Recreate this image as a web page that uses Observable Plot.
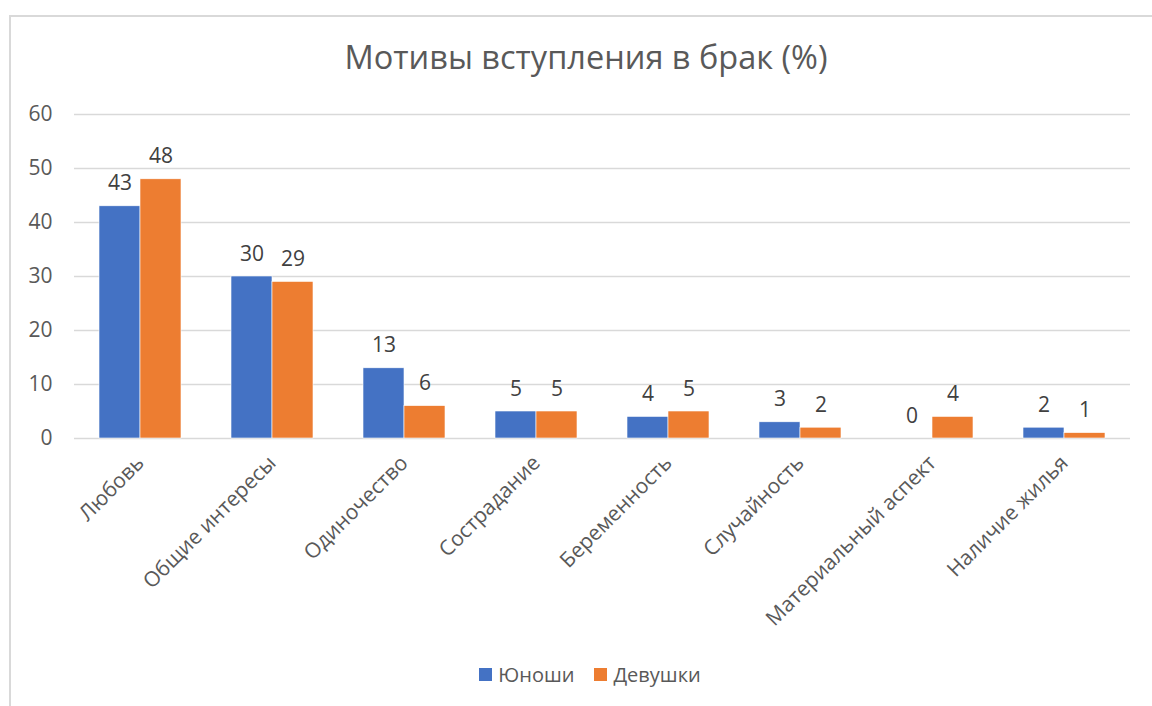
<!DOCTYPE html>
<html>
<head>
<meta charset="utf-8">
<script src="https://cdn.jsdelivr.net/npm/d3@7"></script>
<script src="https://cdn.jsdelivr.net/npm/@observablehq/plot@0.6"></script>
<style>
  body { margin: 0; background: #fff; }
  #wrap { position: relative; width: 1152px; height: 706px; overflow: hidden; font-family: "Open Sans", sans-serif; }
  #frame { position: absolute; left: 9px; top: 15px; width: 1160px; height: 720px; border-left: 2px solid #d9d9d9; border-top: 2px solid #d9d9d9; box-sizing: border-box; }
  #title { position: absolute; left: 0; width: 1172px; top: 34px; text-align: center; font-size: 32.5px; color: #595959; }
  #chart { position: absolute; left: 0; top: 0; }
  #legend { position: absolute; left: 0; width: 1180px; top: 660px; text-align: center; font-size: 20px; color: #595959; }
  .item { display: inline-flex; align-items: center; margin: 0 10px; }
  .sw { display: inline-block; width: 13px; height: 13px; margin-right: 6px; }
</style>
</head>
<body>
<div id="wrap">
  <div id="frame"></div>
  <div id="chart"></div>
  <div id="title"></div>
  <div id="legend"></div>
</div>
<script>
const title = "Мотивы вступления в брак (%)";
const categories = ["Любовь", "Общие интересы", "Одиночество", "Сострадание", "Беременность", "Случайность", "Материальный аспект", "Наличие жилья"];
const series = ["Юноши", "Девушки"];
const youths = [43, 30, 13, 5, 4, 3, 0, 2];
const girls = [48, 29, 6, 5, 5, 2, 4, 1];
const colors = ["#4472c4", "#ed7d31"];
const yTicks = [0, 10, 20, 30, 40, 50, 60];

const data = [];
categories.forEach((c, i) => {
  data.push({category: c, series: series[0], value: youths[i]});
  data.push({category: c, series: series[1], value: girls[i]});
});

const chart = Plot.plot({
  width: 1152,
  height: 706,
  marginTop: 114,
  marginBottom: 268,
  marginLeft: 72,
  marginRight: 20,
  style: {fontFamily: "'Open Sans', sans-serif", fontSize: "21px", color: "#595959", background: "transparent"},
  fx: {domain: categories, padding: 0, label: null, tickRotate: -45, tickSize: 0, tickPadding: 21},
  x: {domain: series, paddingInner: 0, paddingOuter: 0.576, axis: null},
  y: {domain: [0, 60], ticks: yTicks, tickSize: 0, tickPadding: 22, label: null},
  color: {domain: series, range: colors},
  marks: [
    Plot.gridY(yTicks, {stroke: "#d9d9d9", strokeOpacity: 1, strokeWidth: 1.3}),
    Plot.barY(data, {fx: "category", x: "series", y: "value", fill: "series", stroke: "white", strokeWidth: 0.6}),
    Plot.text(data, {fx: "category", x: "series", y: "value", text: d => String(d.value), lineAnchor: "bottom", dy: -16, fill: "#404040", fontSize: 21})
  ]
});
document.getElementById("chart").appendChild(chart);
document.getElementById("title").textContent = title;

const legend = document.getElementById("legend");
series.forEach((s, i) => {
  const item = document.createElement("span");
  item.className = "item";
  const sw = document.createElement("span");
  sw.className = "sw";
  sw.style.background = colors[i];
  item.appendChild(sw);
  item.appendChild(document.createTextNode(s));
  legend.appendChild(item);
});
</script>
</body>
</html>
